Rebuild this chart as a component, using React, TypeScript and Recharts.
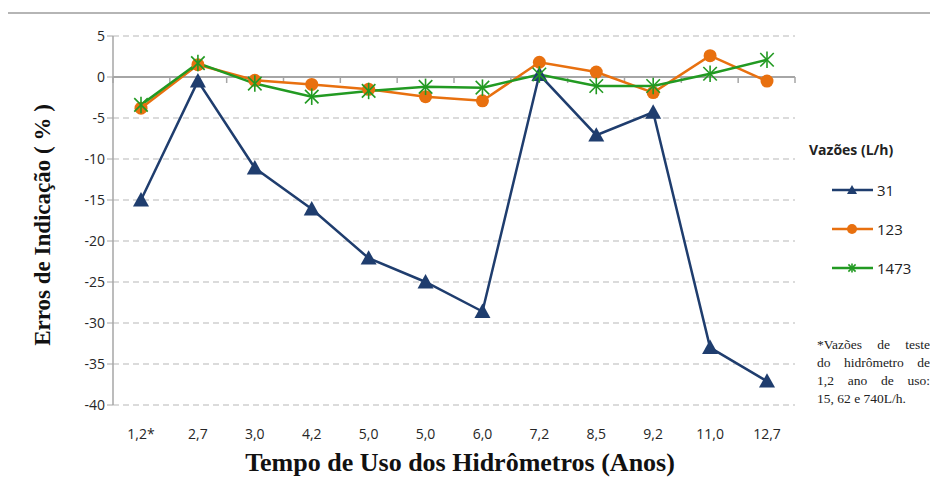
import React from "react";
import { LineChart, Line, XAxis, YAxis, CartesianGrid, ReferenceLine } from "recharts";

const anos = ["1,2*", "2,7", "3,0", "4,2", "5,0", "5,0 ", "6,0", "7,2", "8,5", "9,2", "11,0", "12,7"];
const vazao31 = [-15.0, -0.5, -11.1, -16.1, -22.1, -25.0, -28.6, 0.3, -7.1, -4.3, -33.0, -37.1];
const vazao123 = [-3.8, 1.5, -0.4, -0.9, -1.5, -2.4, -2.9, 1.8, 0.6, -1.9, 2.6, -0.5];
const vazao1473 = [-3.4, 1.7, -0.8, -2.4, -1.7, -1.2, -1.3, 0.3, -1.1, -1.1, 0.4, 2.1];
const yTicks = [5, 0, -5, -10, -15, -20, -25, -30, -35, -40];

const data = anos.map((a, i) => ({ ano: a, s31: vazao31[i], s123: vazao123[i], s1473: vazao1473[i] }));

const NAVY = "#1f3d6e";
const ORANGE = "#e8700f";
const GREEN = "#229a22";
const sans = "'Open Sans', sans-serif";
const serif = "'Liberation Serif', 'DejaVu Serif', serif";

function Triangle({ cx, cy, s = 8 }: any) {
  return <polygon points={`${cx},${cy - s} ${cx - s},${cy + s * 0.8} ${cx + s},${cy + s * 0.8}`} fill={NAVY} />;
}
function Circle({ cx, cy, r = 6.5 }: any) {
  return <circle cx={cx} cy={cy} r={r} fill={ORANGE} />;
}
function Star({ cx, cy, s = 7.5 }: any) {
  const d = s * 0.9;
  return (
    <g stroke={GREEN} strokeWidth={1.6}>
      <line x1={cx - d} y1={cy - d} x2={cx + d} y2={cy + d} />
      <line x1={cx - d} y1={cy + d} x2={cx + d} y2={cy - d} />
      <line x1={cx} y1={cy - s * 1.1} x2={cx} y2={cy + s * 1.1} />
    </g>
  );
}

const series = [
  { key: "s31", name: "31", color: NAVY, mark: (c: number, y: number) => <Triangle cx={c} cy={y} s={5} /> },
  { key: "s123", name: "123", color: ORANGE, mark: (c: number, y: number) => <Circle cx={c} cy={y} r={5} /> },
  { key: "s1473", name: "1473", color: GREEN, mark: (c: number, y: number) => <Star cx={c} cy={y} s={4} /> },
];

// eixo das categorias cruzando em zero, com marcas entre categorias
function ZeroAxis(props: any) {
  const { x1, x2, y1 } = props;
  const n = anos.length;
  const step = (x2 - x1) / n;
  return (
    <g stroke="#a6a6a6">
      <line x1={x1} y1={y1} x2={x2} y2={y1} strokeWidth={2} />
      {Array.from({ length: n + 1 }, (_, i) => (
        <line key={i} x1={x1 + i * step} y1={y1} x2={x1 + i * step} y2={y1 + 6} strokeWidth={1.5} />
      ))}
    </g>
  );
}

export default function App() {
  return (
    <div style={{ position: "relative", width: 922, height: 472 }}>
      <div style={{ position: "absolute", left: -2, top: 4, width: 930, height: 476, borderTop: "2px solid #b5b5b5", borderLeft: "2px solid #b5b5b5", boxSizing: "border-box" }} />
      <LineChart width={922} height={472} data={data} margin={{ top: 28, right: 135, bottom: 45, left: 65 }}>
        <CartesianGrid vertical={false} stroke="#cfcfcf" strokeDasharray="6 4" strokeWidth={1.3} />
        <XAxis dataKey="ano" axisLine={false} tickLine={false} tickSize={0} tickMargin={24} height={30} interval={0}
          padding={{ left: 28, right: 28 }} tick={{ fontSize: 14, fill: "#262626", fontFamily: sans }} />
        <YAxis domain={[-40, 5]} ticks={yTicks} width={40} interval={0} stroke="#a6a6a6" tickSize={6}
          tick={{ fontSize: 14, fill: "#262626", fontFamily: sans }} axisLine={{ stroke: "#a6a6a6", strokeWidth: 1.5 }} />
        <ReferenceLine y={0} shape={ZeroAxis} />
        <Line dataKey="s31" name="31" stroke={NAVY} strokeWidth={2.5} isAnimationActive={false}
          dot={(p: any) => <Triangle key={`t${p.index}`} cx={p.cx} cy={p.cy} />} />
        <Line dataKey="s123" name="123" stroke={ORANGE} strokeWidth={2.5} isAnimationActive={false}
          dot={(p: any) => <Circle key={`c${p.index}`} cx={p.cx} cy={p.cy} />} />
        <Line dataKey="s1473" name="1473" stroke={GREEN} strokeWidth={2.5} isAnimationActive={false}
          dot={(p: any) => <Star key={`s${p.index}`} cx={p.cx} cy={p.cy} />} />
      </LineChart>
      <div style={{ position: "absolute", left: 801, top: 132, fontFamily: sans }}>
        <div style={{ fontWeight: 700, fontSize: 14, color: "#222", marginBottom: 11 }}>Vazões (L/h)</div>
        {series.map((s) => (
          <div key={s.key} style={{ display: "flex", alignItems: "center", height: 39, marginLeft: 22 }}>
            <svg width={44} height={16}>
              <line x1={1} y1={8} x2={42} y2={8} stroke={s.color} strokeWidth={2.5} />
              {s.mark(21, 8)}
            </svg>
            <span style={{ fontSize: 15, color: "#222", marginLeft: 2 }}>{s.name}</span>
          </div>
        ))}
      </div>
      <div style={{ position: "absolute", left: 35, top: 217, transform: "translate(-50%, -50%) rotate(-90deg)", whiteSpace: "nowrap",
        fontFamily: serif, fontWeight: 700, fontSize: 23, color: "#111" }}>Erros de Indicação ( % )</div>
      <div style={{ position: "absolute", left: 452, top: 455, transform: "translate(-50%, -50%)", whiteSpace: "nowrap",
        fontFamily: serif, fontWeight: 700, fontSize: 26, color: "#111" }}>Tempo de Uso dos Hidrômetros (Anos)</div>
      <div style={{ position: "absolute", left: 809, top: 328, width: 113, fontFamily: serif, fontSize: 13.5, lineHeight: "18px", color: "#222", whiteSpace: "nowrap" }}>
        <div style={{ textAlign: "justify", textAlignLast: "justify" }}>*Vazões de teste</div>
        <div style={{ textAlign: "justify", textAlignLast: "justify" }}>do hidrômetro de</div>
        <div style={{ textAlign: "justify", textAlignLast: "justify" }}>1,2 ano de uso:</div>
        <div>15, 62 e 740L/h.</div>
      </div>
    </div>
  );
}
